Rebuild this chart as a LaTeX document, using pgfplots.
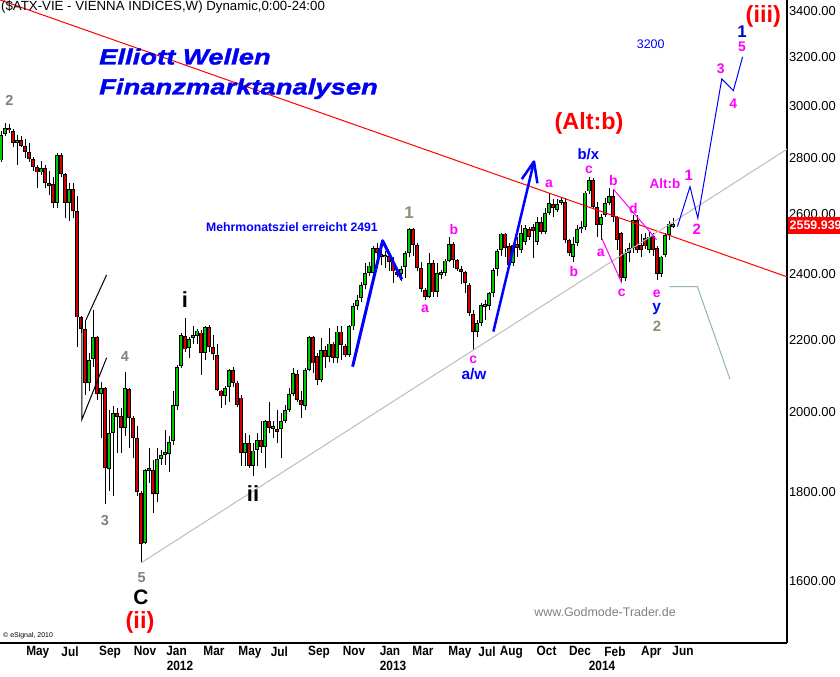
\documentclass[border=0pt]{standalone}
\usepackage{pgfplots}
\pgfplotsset{compat=1.18}
\usepackage{pgfplotstable}
\usepackage{fontspec}
\setmainfont{Liberation Sans}
\newfontfamily\narrowfont{Liberation Sans}[FakeStretch=0.88]
\newfontfamily\ewfont{Liberation Sans}[FakeStretch=1.25, FakeBold=1.5]
\definecolor{cgreen}{RGB}{0,200,0}
\definecolor{cred}{RGB}{210,0,0}
\definecolor{mag}{RGB}{255,0,255}
\definecolor{wgray}{RGB}{128,128,128}
\definecolor{tanc}{RGB}{150,140,115}
\definecolor{trend}{RGB}{200,180,200}
\definecolor{proj}{RGB}{150,180,165}
\definecolor{ewblue}{RGB}{0,0,240}
\pgfplotstableread{
i o h l c
0 2790 2900 2785 2886
1 2888 2931 2880 2912
2 2913 2928 2893 2903
3 2901 2907 2840 2854
4 2854 2886 2774 2866
5 2867 2883 2840 2845
6 2843 2869 2798 2822
7 2821 2855 2786 2797
8 2795 2804 2752 2767
9 2766 2774 2690 2746
10 2746 2788 2737 2761
11 2761 2774 2690 2707
12 2708 2752 2666 2699
13 2705 2731 2619 2639
14 2639 2816 2619 2810
15 2810 2816 2731 2740
16 2740 2745 2585 2639
17 2639 2708 2574 2687
18 2687 2708 2585 2611
19 2610 2661 2180 2267
20 2267 2272 2220 2233
21 2233 2260 2047 2080
22 2080 2162 2056 2143
23 2145 2288 2124 2208
24 2208 2212 2033 2049
25 2049 2082 1932 2065
26 2065 2068 1772 1857
27 1855 2006 1803 1945
28 1945 2016 1789 1997
29 1997 2010 1895 1988
30 1990 2012 1895 1958
31 1958 2109 1937 2065
32 2062 2065 1907 1985
33 1985 1989 1882 1932
34 1932 1964 1789 1800
35 1797 1803 1639 1681
36 1683 1856 1680 1853
37 1850 1907 1822 1858
38 1853 1878 1751 1795
39 1795 1907 1776 1880
40 1880 1903 1866 1890
41 1889 1954 1866 1897
42 1892 1937 1849 1922
43 1925 2056 1915 2019
44 2017 2129 2006 2124
45 2126 2222 2120 2215
46 2212 2265 2167 2173
47 2176 2210 2148 2202
48 2207 2240 2190 2215
49 2213 2232 2190 2228
50 2222 2230 2101 2162
51 2162 2240 2143 2237
52 2237 2245 2167 2179
53 2179 2215 2143 2159
54 2157 2190 2056 2060
55 2058 2060 2011 2042
56 2044 2071 2019 2065
57 2069 2117 2028 2115
58 2115 2122 2067 2080
59 2080 2085 2014 2020
60 2039 2046 1862 1895
61 1895 1945 1862 1920
62 1920 1941 1858 1862
63 1862 1920 1839 1901
64 1903 1945 1862 1927
65 1927 1976 1895 1911
66 1911 1980 1858 1976
67 1976 2028 1945 1958
68 1955 1976 1934 1963
69 1957 2006 1920 1949
70 1955 1997 1882 1976
71 1976 2019 1971 2006
72 2006 2065 2001 2049
73 2049 2120 2042 2106
74 2104 2115 2028 2033
75 2033 2056 1985 2019
76 2017 2120 2006 2115
77 2115 2212 2111 2208
78 2208 2212 2106 2133
79 2155 2162 2074 2087
80 2087 2205 2082 2172
81 2172 2182 2120 2151
82 2151 2235 2138 2190
83 2190 2195 2133 2148
84 2148 2240 2133 2225
85 2225 2240 2143 2186
86 2182 2190 2152 2157
87 2157 2243 2152 2240
88 2240 2310 2230 2302
89 2302 2336 2290 2320
90 2325 2377 2315 2366
91 2366 2436 2355 2404
92 2404 2440 2395 2428
93 2404 2490 2395 2485
94 2485 2501 2420 2468
95 2466 2480 2430 2456
96 2455 2475 2420 2463
97 2460 2470 2410 2441
98 2441 2457 2372 2409
99 2406 2420 2390 2398
100 2402 2425 2380 2418
101 2423 2474 2388 2468
102 2468 2550 2455 2547
103 2547 2550 2460 2495
104 2495 2500 2410 2420
105 2420 2441 2346 2353
106 2351 2356 2320 2330
107 2330 2468 2325 2436
108 2436 2445 2330 2343
109 2346 2436 2330 2404
110 2398 2415 2385 2408
111 2404 2450 2395 2444
112 2444 2523 2440 2499
113 2499 2505 2420 2446
114 2446 2450 2410 2416
115 2416 2425 2370 2407
116 2406 2410 2340 2372
117 2366 2372 2270 2280
118 2278 2290 2172 2225
119 2225 2260 2210 2250
120 2250 2310 2240 2305
121 2298 2320 2260 2306
122 2302 2345 2290 2341
123 2341 2420 2330 2414
124 2416 2480 2395 2474
125 2479 2536 2460 2533
126 2533 2535 2457 2485
127 2492 2500 2420 2430
128 2436 2500 2425 2495
129 2499 2520 2455 2485
130 2479 2560 2470 2535
131 2505 2560 2495 2550
132 2547 2555 2510 2523
133 2554 2565 2452 2542
134 2505 2590 2495 2573
135 2573 2590 2530 2539
136 2539 2620 2530 2603
137 2603 2671 2595 2636
138 2634 2650 2590 2619
139 2613 2650 2605 2634
140 2638 2657 2630 2648
141 2642 2655 2500 2512
142 2512 2515 2460 2468
143 2457 2520 2441 2499
144 2501 2560 2490 2547
145 2547 2575 2535 2556
146 2554 2680 2545 2674
147 2678 2731 2670 2719
148 2719 2725 2615 2624
149 2624 2640 2520 2562
150 2562 2600 2512 2590
151 2596 2655 2590 2636
152 2636 2690 2630 2661
153 2661 2686 2572 2590
154 2588 2592 2479 2512
155 2535 2539 2372 2388
156 2388 2480 2380 2468
157 2468 2500 2440 2485
158 2485 2596 2470 2579
159 2579 2596 2468 2479
160 2495 2530 2455 2479
161 2518 2535 2480 2490
162 2479 2540 2470 2523
163 2526 2535 2460 2479
164 2485 2490 2382 2400
165 2400 2460 2390 2457
166 2463 2535 2455 2529
167 2529 2575 2510 2565
168 2556 2585 2550 2566
}\candles
\begin{document}
\begin{tikzpicture}
\useasboundingbox (0,-34bp) rectangle (840bp,643bp);
\begin{axis}[
  at={(0,0)}, anchor=south west, scale only axis,
  width=787bp, height=643bp,
  xmin=-0.25, xmax=196.5,
  ymode=log, ymin=1474, ymax=3450,
  axis x line*=bottom, axis y line*=right,
  axis line style={black, line width=1.2bp},
  major tick length=0pt, minor tick length=0pt,
  unbounded coords=discard,
  ytick={1600,1800,2000,2200,2400,2600,2800,3000,3200,3400},
  yticklabels={1600.00,1800.00,2000.00,2200.00,2400.00,2600.00,2800.00,3000.00,3200.00,3400.00},
  yticklabel style={font=\fontsize{13}{13}\selectfont, anchor=west, xshift=-1.5bp},
  xtick={9.2,17.25,27.25,36,43.9,53.25,62.25,69.6,79.5,88.25,97.25,105.5,114.75,121.5,127.6,136.4,144.75,153.5,162.6,170.5},
  xticklabels={May,Jul,Sep,Nov,Jan,Mar,May,Jul,Sep,Nov,Jan,Mar,May,Jul,Aug,Oct,Dec,Feb,Apr,Jun},
  xticklabel style={font=\narrowfont\bfseries\fontsize{13.5}{13.5}\selectfont, anchor=north},
  extra x ticks={44.75,98,150.25},
  extra x tick labels={2012,2013,2014},
  extra x tick style={tick label style={yshift=-15bp}},
]
% wicks
\addplot[draw=none, mark=none, forget plot,
  error bars/.cd, y dir=plus, y explicit, error mark=none,
  error bar style={draw=black, line width=1bp}]
  table[x=i, y=l, y error plus expr={\thisrow{h}-\thisrow{l}}] {\candles};
% up bodies
\addplot[draw=none, mark=none, forget plot,
  error bars/.cd, y dir=plus, y explicit, error mark=none,
  error bar style={draw=black, line width=3.5bp}]
  table[x expr={(\thisrow{c}>=\thisrow{o}) ? \thisrow{i} : nan}, y expr={min(\thisrow{o},\thisrow{c})}, y error plus expr={abs(\thisrow{c}-\thisrow{o})}] {\candles};
\addplot[draw=none, mark=none, forget plot,
  error bars/.cd, y dir=plus, y explicit, error mark=none,
  error bar style={draw=cgreen, line width=1.7bp, shorten <=0.9bp, shorten >=0.9bp}]
  table[x expr={(\thisrow{c}>=\thisrow{o}) ? \thisrow{i} : nan}, y expr={min(\thisrow{o},\thisrow{c})}, y error plus expr={abs(\thisrow{c}-\thisrow{o})}] {\candles};
% down bodies
\addplot[draw=none, mark=none, forget plot,
  error bars/.cd, y dir=plus, y explicit, error mark=none,
  error bar style={draw=black, line width=3.5bp}]
  table[x expr={(\thisrow{c}<\thisrow{o}) ? \thisrow{i} : nan}, y expr={min(\thisrow{o},\thisrow{c})}, y error plus expr={abs(\thisrow{c}-\thisrow{o})}] {\candles};
\addplot[draw=none, mark=none, forget plot,
  error bars/.cd, y dir=plus, y explicit, error mark=none,
  error bar style={draw=cred, line width=1.7bp, shorten <=0.9bp, shorten >=0.9bp}]
  table[x expr={(\thisrow{c}<\thisrow{o}) ? \thisrow{i} : nan}, y expr={min(\thisrow{o},\thisrow{c})}, y error plus expr={abs(\thisrow{c}-\thisrow{o})}] {\candles};
% annotation lines
\addplot[red, line width=1bp] coordinates {(-0.25,3450) (196.5,2392)};
\addplot[trend, line width=1bp] coordinates {(35,1638.6) (196.5,2832)};
\addplot[blue, line width=3bp, line join=round] coordinates {(87.9,2124) (95.4,2509) (100.2,2384)};
\addplot[blue, line width=2.5bp] coordinates {(123.1,2225) (133.25,2786)};
\addplot[blue, line width=2.5bp, line join=round] coordinates {(130.2,2722) (133.25,2786) (134.1,2707)};
\addplot[blue, line width=1bp] coordinates {(169.1,2556) (172.25,2695) (174.2,2585) (180.2,3108) (183.1,3060) (185.4,3200)};
\addplot[proj, line width=1bp] coordinates {(167.1,2361) (174.1,2361) (182.25,2089)};
\addplot[mag, line width=1bp] coordinates {(153.1,2686) (163.9,2512)};
\addplot[mag, line width=1bp] coordinates {(150.2,2517) (155.2,2372)};
\addplot[black, line width=1bp] coordinates {(20.2,2269) (20.2,1980) (26.4,2149)};
\addplot[black, line width=1bp] coordinates {(21.25,2260) (26.4,2398)};
\end{axis}
\begin{scope}[x=1bp, y=-1bp, shift={(0bp,643bp)}, inner sep=0pt]
\tikzset{
  mg/.style={text=mag, font=\bfseries\fontsize{14}{14}\selectfont},
  bl/.style={text=blue, font=\bfseries\fontsize{15.5}{15.5}\selectfont},
  gr/.style={text=wgray, font=\bfseries\fontsize{14.5}{14.5}\selectfont},
  rd/.style={text=red, font=\bfseries\fontsize{23.5}{23.5}\selectfont},
  bk/.style={text=black, font=\bfseries\fontsize{22}{22}\selectfont},
}
\node[anchor=west, font=\fontsize{13.3}{13.3}\selectfont] at (1,7) {(\$ATX-VIE - VIENNA INDICES,W) Dynamic,0:00-24:00};
\node[anchor=base west, text=ewblue, font=\ewfont\bfseries\itshape\fontsize{22}{22}\selectfont] at (99,64.5) {Elliott Wellen};
\node[anchor=base west, text=ewblue, font=\ewfont\bfseries\itshape\fontsize{22}{22}\selectfont] at (99,94.5) {Finanzmarktanalysen};
\node[anchor=east, text=blue, font=\bfseries\fontsize{12.3}{12.3}\selectfont] at (378,227) {Mehrmonatsziel erreicht 2491};
\node[gr] at (9.3,100) {2};
\node[gr] at (125,357) {4};
\node[gr] at (105,521) {3};
\node[gr] at (141.7,578) {5};
\node[bk, font=\bfseries\fontsize{21}{21}\selectfont] at (141,597) {C};
\node[rd] at (140,622) {(ii)};
\node[bk] at (185,299.5) {i};
\node[bk] at (253,494) {ii};
\node[text=tanc, font=\bfseries\fontsize{17}{17}\selectfont] at (409,212.5) {1};
\node[mg] at (454,229.3) {b};
\node[mg] at (425,309.3) {a};
\node[mg] at (473.3,360) {c};
\node[bl] at (474,374.3) {a/w};
\node[mg] at (549,184.3) {a};
\node[mg] at (574,271.7) {b};
\node[rd] at (589,123) {(Alt:b)};
\node[anchor=base, text=blue, font=\bfseries\fontsize{15}{15}\selectfont] at (588.3,159.5) {b/x};
\node[mg] at (589,169.5) {c};
\node[mg] at (613.3,180.7) {b};
\node[mg] at (600.7,252.7) {a};
\node[mg] at (633.3,208.3) {d};
\node[mg] at (621.7,293.3) {c};
\node[mg] at (656.7,294) {e};
\node[bl] at (656.7,309) {y};
\node[text=tanc, font=\bfseries\fontsize{15}{15}\selectfont] at (657,326) {2};
\node[mg, font=\bfseries\fontsize{13.5}{13.5}\selectfont] at (665,183.3) {Alt:b};
\node[mg, font=\bfseries\fontsize{15}{15}\selectfont] at (688.8,175) {1};
\node[mg, font=\bfseries\fontsize{15}{15}\selectfont] at (696.7,229) {2};
\node[text=blue, font=\fontsize{12.5}{12.5}\selectfont] at (650.7,44.3) {3200};
\node[rd] at (763.3,16.7) {(iii)};
\node[text=blue!80!black, font=\bfseries\fontsize{17}{17}\selectfont] at (742,31.7) {1};
\node[mg] at (742,46.7) {5};
\node[mg] at (720.7,68.3) {3};
\node[mg] at (733.3,103.3) {4};
\node[text=wgray, font=\fontsize{12.5}{12.5}\selectfont] at (605,612) {www.Godmode-Trader.de};
\node[anchor=west, font=\fontsize{7}{7}\selectfont] at (3,636) {\textcopyright\ eSignal, 2010};
\node[anchor=west, fill=red, text=white, font=\bfseries\fontsize{12.5}{12.5}\selectfont, inner xsep=1.5bp, minimum height=17bp] at (788,225.5) {2559.939};
\end{scope}
\end{tikzpicture}
\end{document}
